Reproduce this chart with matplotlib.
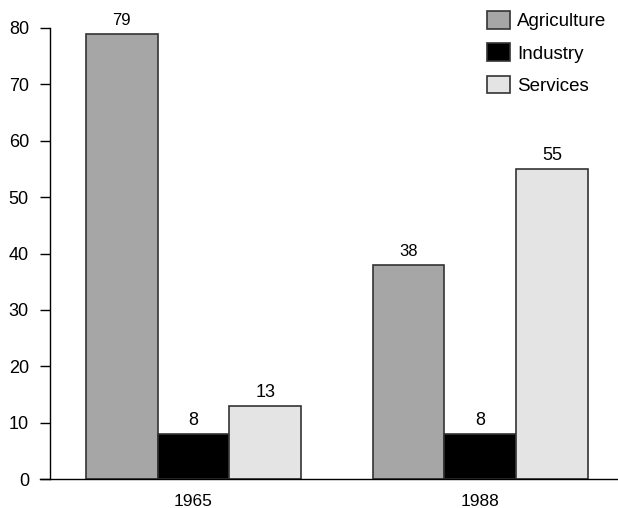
import matplotlib
matplotlib.use("Agg")
import matplotlib.pyplot as plt
import numpy as np

plt.rcParams["font.family"] = ["Liberation Sans", "DejaVu Sans"]

years = ["1965", "1988"]
sectors = ["Agriculture", "Industry", "Services"]
agriculture = [79, 38]
industry = [8, 8]
services = [13, 55]

colors = ["#a6a6a6", "#000000", "#e4e4e4"]
label_sizes = [12, 13, 13]

fig = plt.figure(figsize=(6.18, 5.08), dpi=100)
ax = fig.add_axes([50 / 618, 1 - 479 / 508, 1 - 50 / 618, (479 - 28) / 508])

x = np.arange(len(years))
width = 0.25
for i, (name, vals) in enumerate(zip(sectors, [agriculture, industry, services])):
    pos = x + (i - 1) * width
    bars = ax.bar(pos, vals, width, color=colors[i], edgecolor="#333333",
                  linewidth=1.2, label=name, zorder=2)
    for b, v in zip(bars, vals):
        ax.annotate(str(v), (b.get_x() + b.get_width() / 2, v),
                    xytext=(0, 6.5), textcoords="offset points",
                    ha="center", va="baseline", fontsize=label_sizes[i],
                    annotation_clip=False)

ax.set_xlim(-0.5, 1.48)
ax.set_ylim(0, 80)
ax.set_yticks(range(0, 81, 10))
ax.set_xticks(x)
ax.set_xticklabels(years)
ax.tick_params(axis="y", length=7.2, width=1, direction="out", labelsize=13, pad=8)
ax.tick_params(axis="x", length=0, labelsize=12.5, pad=11)
for s in ["top", "right"]:
    ax.spines[s].set_visible(False)
ax.spines["left"].set_linewidth(1)
ax.spines["bottom"].set_linewidth(1)
ax.spines["bottom"].set_bounds(-0.5 - 10 / 568 * 1.98, 1.48)
ax.spines["bottom"].set_clip_on(False)

leg = fig.legend(loc="upper left", bbox_to_anchor=(487 / 618, 1 - 11 / 508),
                 bbox_transform=fig.transFigure, frameon=False,
                 fontsize=13.5, handlelength=1.23, handleheight=1.07,
                 handletextpad=0.37, labelspacing=0.7,
                 borderpad=0, borderaxespad=0)

fig.savefig("out.png", dpi=100)
